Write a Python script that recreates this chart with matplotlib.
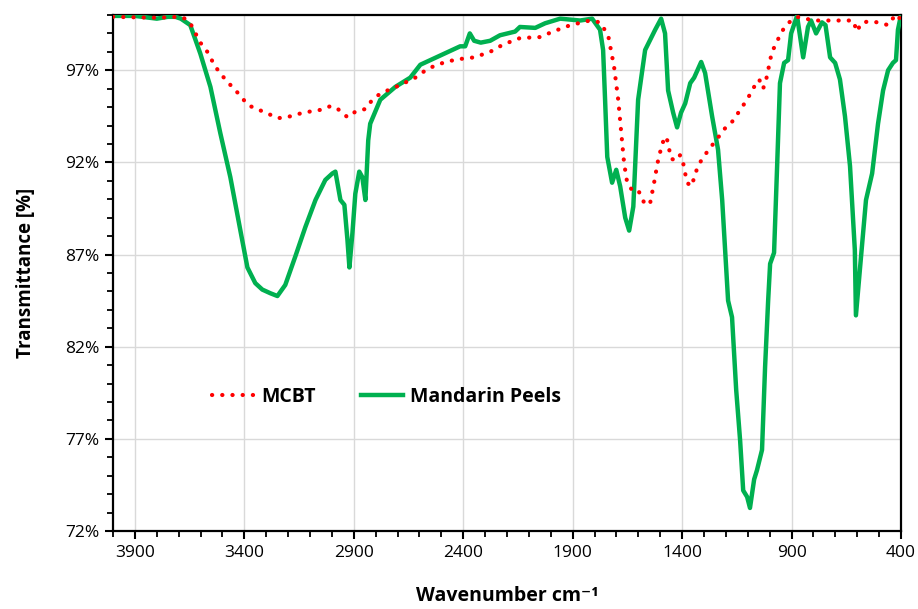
import matplotlib
matplotlib.use("Agg")
import matplotlib.pyplot as plt
from matplotlib.ticker import FixedLocator, MultipleLocator, FuncFormatter

plt.rcParams["font.family"] = ["Open Sans", "DejaVu Sans"]

# FTIR spectra, wavenumber in cm-1, transmittance in %
mandarin_wn = [4000, 3900, 3800, 3750, 3715, 3690, 3647, 3601, 3555, 3510,
               3464, 3418, 3386, 3350, 3318, 3281, 3249, 3213, 3167, 3121,
               3075, 3030, 2998, 2984, 2961, 2943, 2929, 2920, 2906, 2893,
               2875, 2861, 2847, 2834, 2825, 2779, 2710, 2642, 2596, 2505,
               2414, 2391, 2370, 2350, 2320, 2277, 2232, 2163, 2141, 2071,
               2026, 1957, 1866, 1811, 1775, 1761, 1752, 1742, 1720, 1701,
               1683, 1660, 1642, 1623, 1601, 1569, 1546, 1523, 1496, 1478,
               1464, 1441, 1423, 1405, 1386, 1363, 1345, 1313, 1295, 1263,
               1236, 1217, 1190, 1172, 1153, 1135, 1121, 1103, 1090, 1071,
               1058, 1035, 1021, 1007, 998, 980, 966, 953, 934, 916,
               902, 875, 847, 825, 811, 788, 761, 745, 724, 701,
               679, 656, 633, 611, 606, 587, 560, 532, 505, 482,
               459, 437, 423, 414, 400]
mandarin_t = [99.95, 99.95, 99.8, 99.9, 99.9, 99.8, 99.45, 97.9, 96.1, 93.6,
              91.2, 88.3, 86.3, 85.45, 85.1, 84.9, 84.75, 85.35, 86.9, 88.5,
              89.96, 91.05, 91.4, 91.5, 89.96, 89.7, 87.8, 86.3, 88.2, 90.3,
              91.5, 91.2, 89.96, 93.2, 94.1, 95.4, 96.1, 96.6, 97.3, 97.8,
              98.3, 98.3, 99.0, 98.6, 98.5, 98.6, 98.9, 99.1, 99.35, 99.3,
              99.55, 99.8, 99.7, 99.8, 99.2, 98.1, 95.4, 92.3, 90.9, 91.6,
              90.7, 89.0, 88.3, 89.6, 95.4, 98.1, 98.65, 99.2, 99.8, 99.0,
              95.9, 94.7, 93.9, 94.7, 95.2, 96.3, 96.6, 97.45, 96.85, 94.5,
              92.7, 89.96, 84.5, 83.6, 79.65, 76.9, 74.2, 73.85, 73.25, 74.8,
              75.3, 76.4, 80.9, 84.5, 86.5, 87.1, 91.8, 96.3, 97.4, 97.55,
              99.0, 99.95, 97.7, 99.35, 99.7, 99.0, 99.6, 99.45, 97.7, 97.4,
              96.5, 94.5, 91.8, 87.25, 83.7, 86.3, 89.96, 91.4, 94.1, 95.9,
              97.0, 97.4, 97.55, 99.2, 100.0]

mcbt_wn = [4000, 3800, 3700, 3670, 3647, 3601, 3569, 3533, 3487, 3432,
           3382, 3313, 3245, 3190, 3131, 3053, 3007, 2984, 2952, 2929,
           2893, 2847, 2815, 2788, 2747, 2688, 2619, 2560, 2482, 2423,
           2350, 2277, 2217, 2140, 2050, 1990, 1910, 1821, 1775, 1738,
           1711, 1692, 1678, 1665, 1651, 1629, 1601, 1583, 1569, 1546,
           1528, 1514, 1505, 1491, 1482, 1468, 1459, 1450, 1427, 1409,
           1395, 1386, 1377, 1359, 1345, 1331, 1313, 1290, 1268, 1226,
           1204, 1172, 1149, 1126, 1099, 1071, 1048, 1030, 1016, 1007,
           998, 989, 971, 953, 934, 911, 875, 838, 793, 733,
           669, 619, 601, 583, 551, 505, 459, 432, 414, 400]
mcbt_t = [99.9, 99.85, 99.9, 99.8, 99.55, 98.5, 98.0, 97.2, 96.5, 95.8,
          95.1, 94.75, 94.4, 94.5, 94.7, 94.85, 95.05, 95.0, 94.7, 94.45,
          94.75, 94.9, 95.4, 95.65, 95.9, 96.2, 96.6, 97.1, 97.45, 97.6,
          97.7, 98.0, 98.4, 98.75, 98.8, 99.1, 99.45, 99.7, 99.6, 98.9,
          97.2, 95.4, 93.6, 91.95, 90.9, 90.5, 90.5, 90.05, 89.7, 89.8,
          90.9, 91.85, 92.4, 92.9, 93.4, 93.2, 92.7, 92.2, 92.1, 92.4,
          91.95, 91.4, 90.9, 90.7, 91.15, 91.7, 92.1, 92.5, 92.85, 93.5,
          93.85, 94.2, 94.6, 95.0, 95.5, 96.1, 96.5, 96.0, 96.5, 97.0,
          97.55, 98.0, 98.45, 98.9, 99.3, 99.6, 99.9, 99.8, 99.7, 99.7,
          99.7, 99.7, 99.1, 99.55, 99.65, 99.6, 99.45, 99.9, 99.7, 100.0]

x_ticks = [3900, 3400, 2900, 2400, 1900, 1400, 900, 400]
y_ticks = [72, 77, 82, 87, 92, 97]

fig = plt.figure(figsize=(9.18, 6.09), dpi=100)
ax = fig.add_axes([0.1231, 0.1281, 0.8584, 0.8473])

ax.plot(mandarin_wn, mandarin_t, color="#00B050", lw=3.2,
        solid_joinstyle="round", label="Mandarin Peels", zorder=3)
ax.plot(mcbt_wn, mcbt_t, color="#FF0000", lw=3.0, linestyle=(0, (0.05, 2.4)),
        dash_capstyle="round", label="MCBT", zorder=4)

ax.set_xlim(4000, 400)
ax.set_ylim(72, 100)

ax.xaxis.set_major_locator(FixedLocator(x_ticks))
ax.xaxis.set_minor_locator(MultipleLocator(100))
ax.yaxis.set_major_locator(FixedLocator(y_ticks))
ax.yaxis.set_minor_locator(MultipleLocator(1))
ax.yaxis.set_major_formatter(FuncFormatter(lambda v, p: f"{v:.0f}%"))

ax.grid(True, which="major", color="#D9D9D9", lw=1.0, zorder=0)
ax.set_axisbelow(True)

for s in ax.spines.values():
    s.set_linewidth(1.6)
    s.set_color("black")

ax.tick_params(axis="both", which="major", direction="out", length=6,
               width=1.5, labelsize=12.5, pad=4)
ax.tick_params(axis="both", which="minor", direction="out", length=4, width=1.3)
for lbl in ax.get_xticklabels() + ax.get_yticklabels():
    lbl.set_fontweight("medium")

ax.set_xlabel("Wavenumber cm\u207b\u00b9", fontsize=14, fontweight="bold",
              labelpad=18)
ax.set_ylabel("Transmittance [%]", fontsize=13.5, fontweight="bold", labelpad=21)

handles, labels = ax.get_legend_handles_labels()
ax.legend(handles[::-1], labels[::-1], loc="center", bbox_to_anchor=(0.347, 0.26),
          ncol=2, frameon=False, handlelength=2.2, handletextpad=0.35,
          columnspacing=2.3, prop={"weight": "bold", "size": 14})

fig.savefig("out.png", dpi=100)
